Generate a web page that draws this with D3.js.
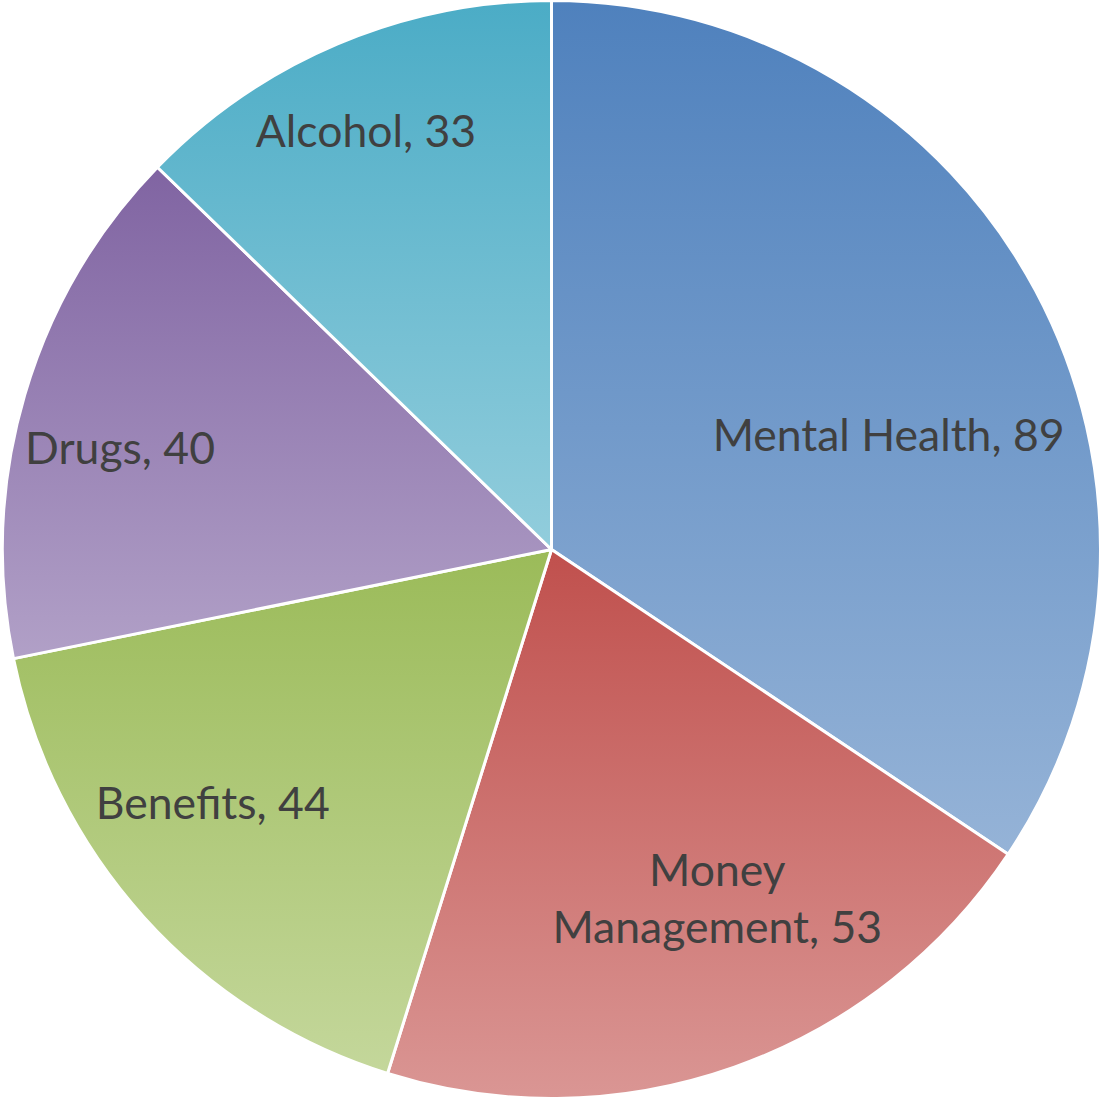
<!DOCTYPE html>
<html><head><meta charset="utf-8">
<script src="https://cdn.jsdelivr.net/npm/d3@7"></script>
<style>html,body{margin:0;padding:0;background:#fff;}svg{display:block;}</style>
</head><body>
<svg id="chart" width="1104" height="1099"></svg>
<script>
const categories = ["Mental Health", "Money Management", "Benefits", "Drugs", "Alcohol"];
const values = [89, 53, 44, 40, 33];
const labelLines = [["Mental Health, 89"], ["Money", "Management, 53"], ["Benefits, 44"], ["Drugs, 40"], ["Alcohol, 33"]];
const topColors = ["#4F81BD", "#C0504D", "#9BBB59", "#8064A2", "#4BACC6"];
const bottomColors = ["#95B3D7", "#DA9694", "#C4D79B", "#B1A0C7", "#92CDDC"];
// label anchor offsets relative to the pie centre, in units of radius
const labelOffsets = [[0.614, -0.207], [0.302, 0.637], [-0.617, 0.463], [-0.786, -0.184], [-0.338, -0.761]];

const W = 1104, H = 1099, cx = 551.5, cy = 549.5, R = 549;
const svg = d3.select("#chart");
const defs = svg.append("defs");
categories.forEach((c, i) => {
  const g = defs.append("linearGradient").attr("id", "g" + i)
    .attr("x1", 0).attr("y1", 0).attr("x2", 0).attr("y2", 1);
  g.append("stop").attr("offset", "0%").attr("stop-color", topColors[i]);
  g.append("stop").attr("offset", "100%").attr("stop-color", bottomColors[i]);
});
const data = categories.map((c, i) => ({c, v: values[i], i}));
const pie = d3.pie().value(d => d.v).sort(null);
const arc = d3.arc().innerRadius(0).outerRadius(R);
const g = svg.append("g").attr("transform", `translate(${cx},${cy})`);
g.selectAll("path").data(pie(data)).join("path")
  .attr("d", arc)
  .attr("fill", d => `url(#g${d.data.i})`)
  .attr("stroke", "#fff").attr("stroke-width", 3).attr("stroke-linejoin", "round");

const fs = 44.5, lh = 57;
const lbl = g.selectAll("text.lbl").data(pie(data)).join("text")
  .attr("class", "lbl")
  .attr("font-family", "Lato, 'Open Sans', sans-serif")
  .attr("font-size", fs)
  .attr("fill", "#404040")
  .attr("text-anchor", "middle")
  .attr("transform", d => `translate(${labelOffsets[d.data.i][0] * R},${labelOffsets[d.data.i][1] * R})`);
lbl.each(function(d) {
  const lines = labelLines[d.data.i];
  const n = lines.length;
  d3.select(this).selectAll("tspan").data(lines).join("tspan")
    .attr("x", 0)
    .attr("y", (l, k) => (k - (n - 1) / 2) * lh)
    .attr("dy", "0.35em")
    .text(l => l);
});
</script>
</body></html>
